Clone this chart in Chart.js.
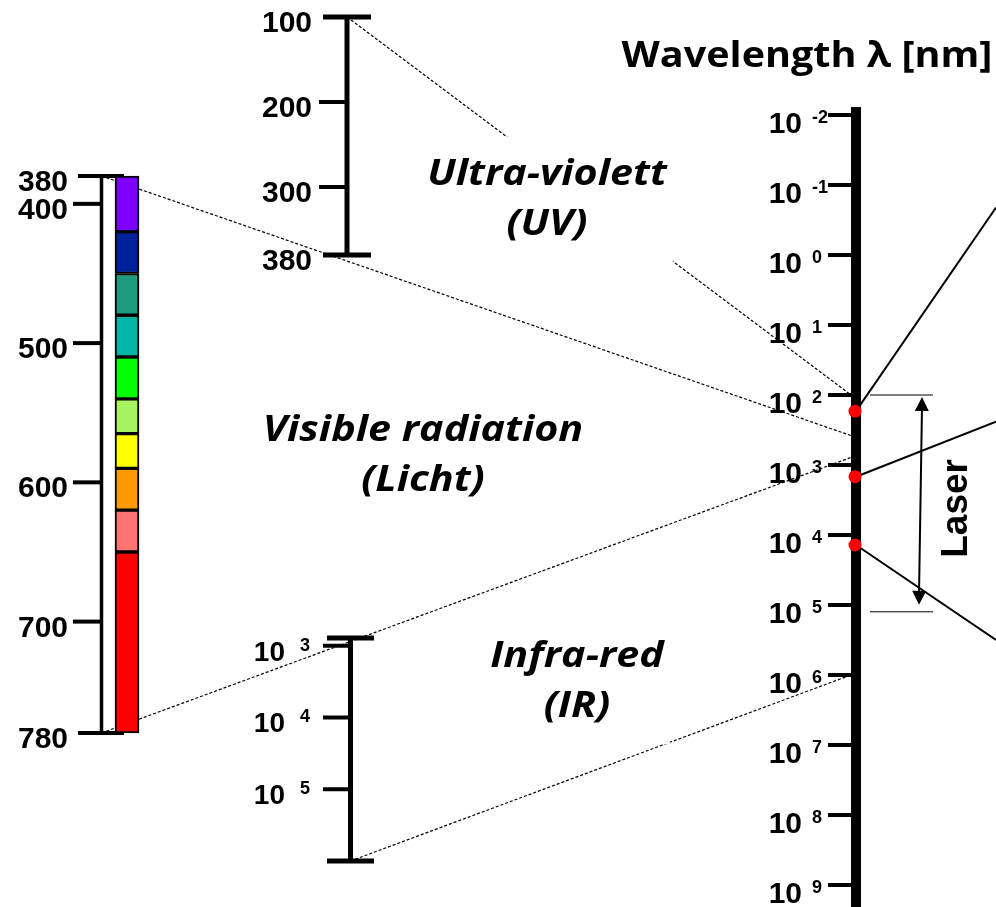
<!DOCTYPE html>
<html lang="en">
  <head>
    <meta charset="UTF-8" />
    <title>Wavelength</title>
    <style>
      html,
      body {
        margin: 0;
        padding: 0;
        background: #fff;
      }
      #wrap {
        position: relative;
        width: 996px;
        height: 907px;
      }
    </style>
  </head>
  <body>
    <div id="wrap"><canvas id="chart"></canvas></div>

    <script src="https://cdn.jsdelivr.net/npm/chart.js@4.4.0/dist/chart.umd.min.js"></script>
    <script>
      // Main wavelength axis: 10^-2 ... 10^9 nm
      const mainExponents = [-2, -1, 0, 1, 2, 3, 4, 5, 6, 7, 8, 9];
      // Zoomed scales
      const uvTicks = [100, 200, 300, 380];
      const visTicks = [380, 400, 500, 600, 700, 780];
      const irExponents = [3, 4, 5];
      const irRange = [780, 1e6];
      // Visible spectrum colour bands (nm)
      const bandEdges = [380, 420, 450, 480, 510, 540, 565, 590, 620, 650, 780];
      const bandColors = [
        '#8000ff', '#00219c', '#1e9b7d', '#00b5a6', '#00ff00',
        '#a6f261', '#ffff00', '#ff9900', '#ff7373', '#ff0000',
      ];
      // Laser markers (nm) and where their leader lines leave the picture (nm)
      const laserDots = [170, 1470, 13900];
      const leaderEnds = [0.21, 240, 316000];
      const laserRange = [100, 125000];
      // dotted links: zoomed scale + wavelength -> same wavelength on main axis
      const links = [
        ['yUV', 100],
        ['yVis', 380],
        ['yVis', 780],
        ['yIR', 1e6],
      ];
      const regionLabels = [
        ['Ultra-violett', '(UV)'],
        ['Visible radiation', '(Licht)'],
        ['Infra-red', '(IR)'],
      ];
      const titleText = 'Wavelength \u03bb [nm]';
      const laserText = 'Laser';

      // Layout
      const W = 996;
      const H = 907;
      const AX = { main: 856, uv: 347, vis: 101.5, ir: 350.5, bar: 127 };
      const labelPos = [
        [547, 185],
        [423, 441],
        [577, 667],
      ];
      const ARIAL = '"Liberation Sans", Arial, sans-serif';
      const SANS = '"Open Sans", "Noto Sans", sans-serif';

      // min/max so that v0 lands on pixel p0 and v1 on p1
      const linRange = (v0, p0, v1, p1) => {
        const k = (v1 - v0) / (p1 - p0);
        return { min: v0 - p0 * k, max: v0 + (H - p0) * k };
      };
      const logRange = (v0, p0, v1, p1) => {
        const r = linRange(Math.log10(v0), p0, Math.log10(v1), p1);
        return { min: 10 ** r.min, max: 10 ** r.max };
      };

      function vline(ctx, x, y0, y1, w) {
        ctx.lineWidth = w;
        ctx.beginPath();
        ctx.moveTo(x, y0);
        ctx.lineTo(x, y1);
        ctx.stroke();
      }
      function hline(ctx, x0, x1, y, w) {
        ctx.lineWidth = w;
        ctx.beginPath();
        ctx.moveTo(x0, y);
        ctx.lineTo(x1, y);
        ctx.stroke();
      }
      function label(ctx, txt, x, y, align, font) {
        ctx.font = font;
        ctx.textAlign = align;
        ctx.textBaseline = 'alphabetic';
        ctx.fillText(txt, x, y);
      }
      // centred text drawn a bit wider than the font
      function wideLabel(ctx, txt, x, y, font, sx) {
        ctx.save();
        ctx.translate(x, y);
        ctx.scale(sx, 1);
        label(ctx, txt, 0, 0, 'center', font);
        ctx.restore();
      }
      function power(ctx, exp, right, y, size, gap, baseOff, supOff) {
        label(ctx, '10', right, y + baseOff, 'right', `bold ${size}px ${ARIAL}`);
        label(ctx, exp, right + gap, y + supOff, 'left', `bold 18px ${ARIAL}`);
      }
      function arrowHead(ctx, x, y, dx, dy) {
        const len = Math.hypot(dx, dy);
        const ux = dx / len, uy = dy / len;
        ctx.beginPath();
        ctx.moveTo(x, y);
        ctx.lineTo(x - ux * 14 - uy * 7, y - uy * 14 + ux * 7);
        ctx.lineTo(x - ux * 14 + uy * 7, y - uy * 14 - ux * 7);
        ctx.closePath();
        ctx.fill();
      }

      const diagram = {
        id: 'diagram',
        beforeDatasetsDraw(chart) {
          const { ctx, scales } = chart;
          const px = (v) => scales.x.getPixelForValue(v);
          const main = scales.yMain;
          const uv = scales.yUV;
          const vis = scales.yVis;
          const ir = scales.yIR;
          const mx = px(AX.main);
          ctx.save();
          ctx.strokeStyle = '#000';
          ctx.fillStyle = '#000';

          // dotted links between the scales
          const fromX = { yUV: px(AX.uv), yVis: px(AX.vis), yIR: px(AX.ir) };
          ctx.setLineDash([3, 2]);
          ctx.lineWidth = 1.2;
          links.forEach(([id, v]) => {
            ctx.beginPath();
            ctx.moveTo(fromX[id], scales[id].getPixelForValue(v));
            ctx.lineTo(mx - 5, main.getPixelForValue(v));
            ctx.stroke();
          });
          ctx.setLineDash([]);

          // region names on white boxes
          const italic = `italic bold 35px ${SANS}`;
          const sx = 1.18;
          regionLabels.forEach((lines, i) => {
            const [cx, by] = labelPos[i];
            ctx.font = italic;
            const w = sx * Math.max(...lines.map((t) => ctx.measureText(t).width));
            ctx.fillStyle = '#fff';
            ctx.fillRect(cx - w / 2 - 12, by - 48, w + 18, 50 * (lines.length - 1) + 75);
            ctx.fillStyle = '#000';
            lines.forEach((t, j) => wideLabel(ctx, t, cx, by + 50 * j, italic, sx));
          });

          // title
          wideLabel(ctx, titleText, 807, 67, `bold 35px ${SANS}`, 1.13);

          // UV scale
          const ux = px(AX.uv);
          vline(ctx, ux, uv.getPixelForValue(uvTicks[0]), uv.getPixelForValue(uvTicks[uvTicks.length - 1]), 5);
          uvTicks.forEach((v, i) => {
            const y = uv.getPixelForValue(v);
            if (i === 0 || i === uvTicks.length - 1) hline(ctx, ux - 24, ux + 24, y, 5);
            else hline(ctx, ux - 28, ux, y, 4);
            label(ctx, String(v), ux - 35, y + 15, 'right', `bold 30px ${ARIAL}`);
          });

          // visible scale
          const vx = px(AX.vis);
          vline(ctx, vx, vis.getPixelForValue(visTicks[0]), vis.getPixelForValue(visTicks[visTicks.length - 1]), 3.5);
          visTicks.forEach((v, i) => {
            const y = vis.getPixelForValue(v);
            if (i === 0 || i === visTicks.length - 1) hline(ctx, vx - 23.5, vx + 22.5, y, 4);
            else hline(ctx, vx - 28.5, vx, y, 4);
            label(ctx, String(v), vx - 33.5, y + 15, 'right', `bold 30px ${ARIAL}`);
          });

          // IR scale
          const ix = px(AX.ir);
          vline(ctx, ix, ir.getPixelForValue(irRange[0]), ir.getPixelForValue(irRange[1]), 5);
          irRange.forEach((v) => hline(ctx, ix - 23.5, ix + 23.5, ir.getPixelForValue(v), 5));
          irExponents.forEach((e) => {
            const y = ir.getPixelForValue(10 ** e);
            hline(ctx, ix - 27.5, ix, y, 4);
            power(ctx, String(e), ix - 65.5, y, 28, 15, 15, 5);
          });

          // main log axis
          vline(ctx, mx, main.getPixelForValue(10 ** mainExponents[0]) - 8, H, 10);
          mainExponents.forEach((e) => {
            const y = main.getPixelForValue(10 ** e);
            hline(ctx, mx - 28, mx - 4, y, 4);
            power(ctx, String(e), mx - 54, y, 30, 10, 18, 8);
          });

          // laser range bracket
          const l0 = main.getPixelForValue(laserRange[0]);
          const l1 = main.getPixelForValue(laserRange[1]);
          hline(ctx, mx + 14, mx + 77, l0, 1);
          hline(ctx, mx + 14, mx + 77, l1, 1);
          const ax0 = mx + 66, ay0 = l0 + 2, ax1 = mx + 63, ay1 = l1 - 7;
          ctx.lineWidth = 2;
          ctx.beginPath();
          ctx.moveTo(ax0, ay0 + 10);
          ctx.lineTo(ax1, ay1 - 10);
          ctx.stroke();
          arrowHead(ctx, ax0, ay0, ax0 - ax1, ay0 - ay1);
          arrowHead(ctx, ax1, ay1, ax1 - ax0, ay1 - ay0);
          ctx.translate(mx + 101, (l0 + l1) / 2 + 5);
          ctx.rotate(-Math.PI / 2);
          ctx.font = `bold 37px ${ARIAL}`;
          ctx.textAlign = 'center';
          ctx.textBaseline = 'middle';
          ctx.fillText(laserText, 0, 0);

          ctx.restore();
        },
      };

      const hidden = { display: false, bounds: 'data', axis: 'y', reverse: true };

      new Chart(document.getElementById('chart'), {
        type: 'scatter',
        data: {
          datasets: [
            {
              type: 'scatter',
              yAxisID: 'yMain',
              data: laserDots.map((v) => ({ x: AX.main - 1, y: v })),
              pointRadius: 6.5,
              pointBackgroundColor: '#ff0000',
              pointBorderWidth: 0,
              order: 0,
            },
            ...laserDots.map((v, i) => ({
              type: 'line',
              yAxisID: 'yMain',
              data: [
                { x: AX.main, y: v },
                { x: W, y: leaderEnds[i] },
              ],
              borderColor: '#000',
              borderWidth: 2,
              pointRadius: 0,
              order: 1,
            })),
            {
              type: 'bar',
              xAxisID: 'x',
              yAxisID: 'yVis',
              data: bandColors.map((c, i) => ({ x: AX.bar, y: [bandEdges[i], bandEdges[i + 1]] })),
              backgroundColor: bandColors,
              borderColor: '#000',
              borderWidth: 2,
              borderSkipped: false,
              barThickness: 24,
              order: 2,
            },
          ],
        },
        options: {
          responsive: true,
          maintainAspectRatio: false,
          animation: false,
          devicePixelRatio: 1,
          events: [],
          layout: { padding: 0, autoPadding: false },
          plugins: { legend: { display: false }, tooltip: { enabled: false } },
          scales: {
            x: { type: 'linear', min: 0, max: W, display: false, offset: false },
            yMain: { ...hidden, type: 'logarithmic', ...logRange(1e-2, 115, 1e9, 885) },
            yUV: { ...hidden, type: 'linear', ...linRange(100, 17, 380, 255) },
            yVis: { ...hidden, type: 'linear', ...linRange(380, 176, 780, 733) },
            yIR: { ...hidden, type: 'logarithmic', ...logRange(780, 638, 1e6, 861) },
          },
        },
        plugins: [diagram],
      });
    </script>
  </body>
</html>
